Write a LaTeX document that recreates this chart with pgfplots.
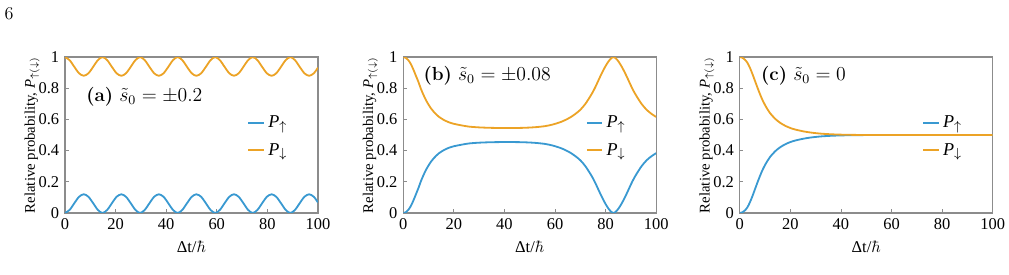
\documentclass[border=0pt]{standalone}
\usepackage{fontspec}
\usepackage{pgfplots}
\pgfplotsset{compat=1.18}
\usepackage{pgfplotstable}
\newfontfamily\tnr{Liberation Serif}
\definecolor{cblue}{RGB}{57,153,209}
\definecolor{corange}{RGB}{236,163,38}
\definecolor{framegray}{RGB}{140,140,140}

\pgfplotstableread{
x up down
0 0 1
1.856 0.020 0.980
3.713 0.063 0.937
5.569 0.104 0.896
7.425 0.120 0.880
9.281 0.104 0.896
11.138 0.063 0.937
12.994 0.020 0.980
14.85 0 1
16.706 0.020 0.980
18.563 0.063 0.937
20.419 0.104 0.896
22.275 0.120 0.880
24.131 0.104 0.896
25.988 0.063 0.937
27.844 0.020 0.980
29.7 0 1
31.556 0.020 0.980
33.413 0.063 0.937
35.269 0.104 0.896
37.125 0.120 0.880
38.981 0.104 0.896
40.838 0.063 0.937
42.694 0.020 0.980
44.55 0 1
46.406 0.020 0.980
48.263 0.063 0.937
50.119 0.104 0.896
51.975 0.120 0.880
53.831 0.104 0.896
55.688 0.063 0.937
57.544 0.020 0.980
59.4 0 1
61.256 0.020 0.980
63.113 0.063 0.937
64.969 0.104 0.896
66.825 0.120 0.880
68.681 0.104 0.896
70.538 0.063 0.937
72.394 0.020 0.980
74.25 0 1
76.106 0.020 0.980
77.963 0.063 0.937
79.819 0.104 0.896
81.675 0.120 0.880
83.531 0.104 0.896
85.388 0.063 0.937
87.244 0.020 0.980
89.1 0 1
90.956 0.020 0.980
92.813 0.063 0.937
94.669 0.104 0.896
96.525 0.120 0.880
98.381 0.104 0.896
100 0.068 0.932
}\tabA

\pgfplotstableread{
x up down
0 0 1
1 0.005 0.995
2 0.02 0.98
3 0.045 0.955
4 0.08 0.92
5 0.12 0.88
6 0.16 0.84
7 0.205 0.795
8 0.243 0.757
9 0.277 0.723
10 0.305 0.695
11 0.33 0.67
12 0.35 0.65
13 0.367 0.633
14 0.382 0.618
16 0.403 0.597
18 0.418 0.582
20 0.428 0.572
23 0.438 0.562
26 0.446 0.554
30 0.451 0.549
35 0.454 0.546
41 0.455 0.545
47 0.454 0.546
52 0.450 0.550
56 0.443 0.557
59 0.433 0.567
62 0.418 0.582
64 0.404 0.596
66 0.387 0.613
68 0.365 0.635
70 0.338 0.662
72 0.300 0.700
74 0.250 0.750
75 0.222 0.778
76 0.190 0.810
77 0.155 0.845
78 0.120 0.880
79 0.087 0.913
80 0.057 0.943
81 0.031 0.969
82 0.011 0.989
83.1 0 1
84.2 0.011 0.989
85.2 0.031 0.969
86.2 0.057 0.943
87.2 0.087 0.913
88.2 0.120 0.880
89.2 0.155 0.845
90.2 0.190 0.810
91.2 0.222 0.778
92.2 0.250 0.750
94.2 0.300 0.700
96.2 0.338 0.662
98.2 0.365 0.635
100 0.384 0.616
}\tabB

\pgfplotstableread{
x up down
0 0 1
1 0.004 0.996
2 0.016 0.984
3 0.036 0.964
4 0.068 0.932
5 0.108 0.892
6 0.152 0.848
7 0.196 0.804
8 0.238 0.762
9 0.276 0.724
10 0.308 0.692
11 0.336 0.664
12 0.360 0.640
14 0.396 0.604
16 0.422 0.578
18 0.441 0.559
20 0.455 0.545
22 0.465 0.535
25 0.476 0.524
28 0.484 0.516
32 0.491 0.509
36 0.495 0.505
40 0.4975 0.5025
45 0.499 0.501
50 0.4997 0.5003
60 0.5 0.5
100 0.5 0.5
}\tabC

\pgfplotsset{panel/.style={
  scale only axis, width=153.8pt, height=94.8pt,
  anchor=south west,
  xmin=0, xmax=100, ymin=0, ymax=1,
  xtick={0,20,40,60,80,100}, ytick={0,0.2,0.4,0.6,0.8,1},
  tick pos=left, tick align=inside, major tick length=2.2pt,
  axis line style={draw=framegray, line width=0.8pt},
  every tick/.style={draw=framegray, line width=0.5pt},
  tick label style={font=\tnr\fontsize{10}{12}\selectfont},
  /pgf/number format/assume math mode=true,
  xlabel={{\tnr Δt/}$\hbar$},
  ylabel={{\tnr Relative probability, \textit{P}}$_{\uparrow(\downarrow)}$},
  xlabel style={font=\fontsize{10}{12}\selectfont},
  ylabel style={font=\tnr\fontsize{9}{11}\selectfont},
  ylabel shift=-7.5pt,
  legend cell align=left,
  legend image code/.code={\draw (0pt,0pt) -- (9.5pt,0pt);},
  legend style={draw=none, fill=none, inner sep=0pt, outer sep=0pt,
    at={(rel axis cs:0.722,0.49)}, anchor=west, row sep=4pt,
    font=\tnr\fontsize{11}{13}\selectfont},
}}

\begin{document}
\begin{tikzpicture}
\path[use as bounding box] (0,0) rectangle (613.5pt,167.2pt);
\node[inner sep=0pt] at (5.5pt,158.7pt) {\fontsize{11}{13}\selectfont 6};

\begin{axis}[panel, at={(39.5pt,37.7pt)}]
\addplot[cblue, smooth, line width=1.1pt] table[x=x,y=up]{\tabA};
\addlegendentry{\textit{P}$_\uparrow$}
\addplot[corange, smooth, line width=1.1pt] table[x=x,y=down]{\tabA};
\addlegendentry{\textit{P}$_\downarrow$}
\node[anchor=west, inner sep=0pt] at (rel axis cs:0.083,0.744)
  {\fontsize{11.5}{14}\selectfont\textbf{(a)} $\tilde{s}_0=\pm0.2$};
\end{axis}

\begin{axis}[panel, at={(245.2pt,37.7pt)}]
\addplot[cblue, smooth, line width=1.1pt] table[x=x,y=up]{\tabB};
\addlegendentry{\textit{P}$_\uparrow$}
\addplot[corange, smooth, line width=1.1pt] table[x=x,y=down]{\tabB};
\addlegendentry{\textit{P}$_\downarrow$}
\node[anchor=west, inner sep=0pt] at (rel axis cs:0.079,0.878)
  {\fontsize{11.5}{14}\selectfont\textbf{(b)} $\tilde{s}_0=\pm0.08$};
\end{axis}

\begin{axis}[panel, at={(449.8pt,37.7pt)}]
\addplot[cblue, smooth, line width=1.1pt] table[x=x,y=up]{\tabC};
\addlegendentry{\textit{P}$_\uparrow$}
\addplot[corange, smooth, line width=1.1pt] table[x=x,y=down]{\tabC};
\addlegendentry{\textit{P}$_\downarrow$}
\node[anchor=west, inner sep=0pt] at (rel axis cs:0.083,0.878)
  {\fontsize{11.5}{14}\selectfont\textbf{(c)} $\tilde{s}_0=0$};
\end{axis}
\end{tikzpicture}
\end{document}
